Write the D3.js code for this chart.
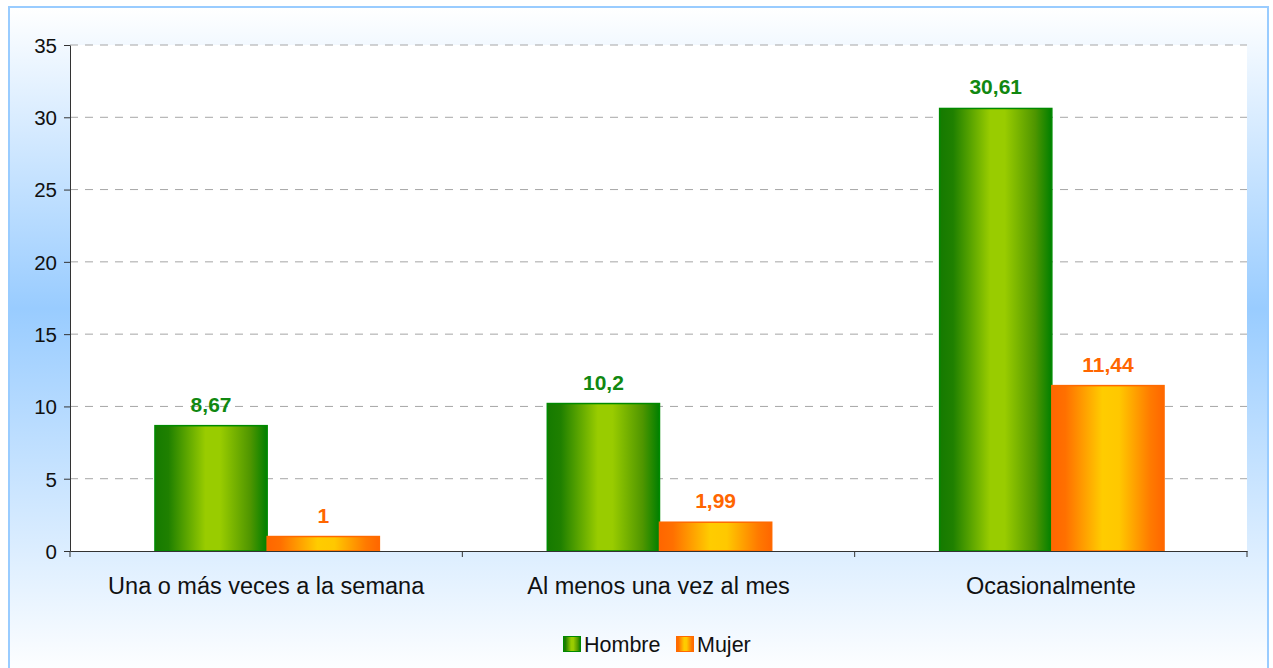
<!DOCTYPE html>
<html lang="es">
<head>
  <meta charset="UTF-8">
  <title>Hombre / Mujer</title>
  <script src="https://d3js.org/d3.v7.min.js"></script>
  <style>
    body { margin: 0; padding: 0; background: #fff; }
    svg { display: block; font-family: 'Liberation Sans', Arial, sans-serif; }
    .grid line { stroke: #a6a6a6; stroke-dasharray: 8 7; }
    .axis text { fill: #111; }
    .axis path, .axis line { stroke: #333; }
  </style>
</head>
<body>
<svg id="chart" width="1273" height="668"></svg>
<script>
// data
const categories = ["Una o más veces a la semana", "Al menos una vez al mes", "Ocasionalmente"];
const series = ["Hombre", "Mujer"];
const hombre = [8.67, 10.2, 30.61];
const mujer = [1, 1.99, 11.44];
const yTicks = [0, 5, 10, 15, 20, 25, 30, 35];

const svg = d3.select("#chart");
const W = 1273, H = 668;
const margin = {top: 45, right: 26, bottom: 117, left: 70};
const pw = W - margin.left - margin.right;
const ph = H - margin.top - margin.bottom;

// background gradients
const defs = svg.append("defs");
const bg = defs.append("linearGradient").attr("id", "bg").attr("x1", 0).attr("y1", 0).attr("x2", 0).attr("y2", 1);
bg.append("stop").attr("offset", "0%").attr("stop-color", "#ffffff");
bg.append("stop").attr("offset", "45%").attr("stop-color", "#99ccff");
bg.append("stop").attr("offset", "100%").attr("stop-color", "#ffffff");

const gGreen = defs.append("linearGradient").attr("id", "gGreen");
[["0%", "#157a00"], ["12%", "#1f8000"], ["45%", "#99cc00"], ["58%", "#99cc00"], ["85%", "#4f9600"], ["100%", "#007f00"]]
  .forEach(s => gGreen.append("stop").attr("offset", s[0]).attr("stop-color", s[1]));
const gOrange = defs.append("linearGradient").attr("id", "gOrange");
[["0%", "#ff6600"], ["12%", "#ff7000"], ["45%", "#ffcc00"], ["60%", "#ffc800"], ["88%", "#ff7a00"], ["100%", "#ff6600"]]
  .forEach(s => gOrange.append("stop").attr("offset", s[0]).attr("stop-color", s[1]));

svg.append("rect").attr("x", 0).attr("y", 0).attr("width", W).attr("height", H).attr("fill", "#fff");
svg.append("rect").attr("x", 9).attr("y", 7).attr("width", 1259).attr("height", 670)
  .attr("fill", "url(#bg)").attr("stroke", "#99ccff").attr("stroke-width", 2);

const g = svg.append("g").attr("transform", `translate(${margin.left},${margin.top})`);
g.append("rect").attr("width", pw).attr("height", ph).attr("fill", "#fff");

const x0 = d3.scaleBand().domain(categories).range([0, pw]).paddingInner(0).paddingOuter(0);
const x1 = d3.scaleBand().domain(series).range([0, x0.bandwidth() * 0.572]).padding(0);
const y = d3.scaleLinear().domain([0, 35]).range([ph, 0]);

// gridlines
g.append("g").attr("class", "grid")
  .selectAll("line").data(yTicks.filter(d => d > 0)).join("line")
  .attr("x1", 0).attr("x2", pw).attr("y1", d => y(d)).attr("y2", d => y(d));

// bars
const rows = categories.map((c, i) => ({cat: c, vals: [{s: "Hombre", v: hombre[i]}, {s: "Mujer", v: mujer[i]}]}));
const groupOffset = (x0.bandwidth() - x1.range()[1]) / 2 + 1;
const grp = g.selectAll(".grp").data(rows).join("g")
  .attr("transform", d => `translate(${x0(d.cat) + groupOffset},0)`);
grp.selectAll("rect").data(d => d.vals).join("rect")
  .attr("x", d => x1(d.s)).attr("y", d => y(d.v))
  .attr("width", x1.bandwidth()).attr("height", d => y(0) - y(d.v))
  .attr("fill", d => d.s === "Hombre" ? "url(#gGreen)" : "url(#gOrange)")
  .attr("stroke", d => d.s === "Hombre" ? "#008a00" : "#ff6a00").attr("stroke-width", 1.5);
grp.selectAll("text").data(d => d.vals).join("text")
  .attr("x", d => x1(d.s) + x1.bandwidth() / 2).attr("y", d => y(d.v) - 14)
  .attr("text-anchor", "middle").attr("font-size", "21px").attr("font-weight", "bold")
  .attr("fill", d => d.s === "Hombre" ? "#118811" : "#ff6600")
  .text(d => String(d.v).replace(".", ","));

// axes
const yAxis = g.append("g").attr("class", "axis")
  .call(d3.axisLeft(y).tickValues(yTicks).tickSize(6).tickPadding(7).tickSizeOuter(0));
yAxis.selectAll("text").attr("font-size", "20.5px").attr("dy", "0.36em");

const xAxis = g.append("g").attr("class", "axis").attr("transform", `translate(0,${ph})`)
  .call(d3.axisBottom(x0).tickSize(0).tickPadding(26).tickSizeOuter(0));
xAxis.selectAll("text").attr("font-size", "23.5px");
xAxis.selectAll(".bnd").data(d3.range(categories.length + 1)).join("line")
  .attr("x1", i => i * x0.step()).attr("x2", i => i * x0.step())
  .attr("y1", 0).attr("y2", 6).attr("stroke", "#333");

// legend
const legend = svg.append("g").attr("transform", "translate(563,636)");
const lx = [0, 113];
series.forEach((s, i) => {
  const lg = legend.append("g").attr("transform", `translate(${lx[i]},0)`);
  lg.append("rect").attr("x", 0.5).attr("y", 0.5).attr("width", 17).attr("height", 15)
    .attr("fill", i === 0 ? "url(#gGreen)" : "url(#gOrange)")
    .attr("stroke", i === 0 ? "#008a00" : "#ff6a00");
  lg.append("text").attr("x", 21).attr("y", 16).attr("font-size", "21.5px").attr("fill", "#111").text(s);
});
</script>
</body>
</html>
